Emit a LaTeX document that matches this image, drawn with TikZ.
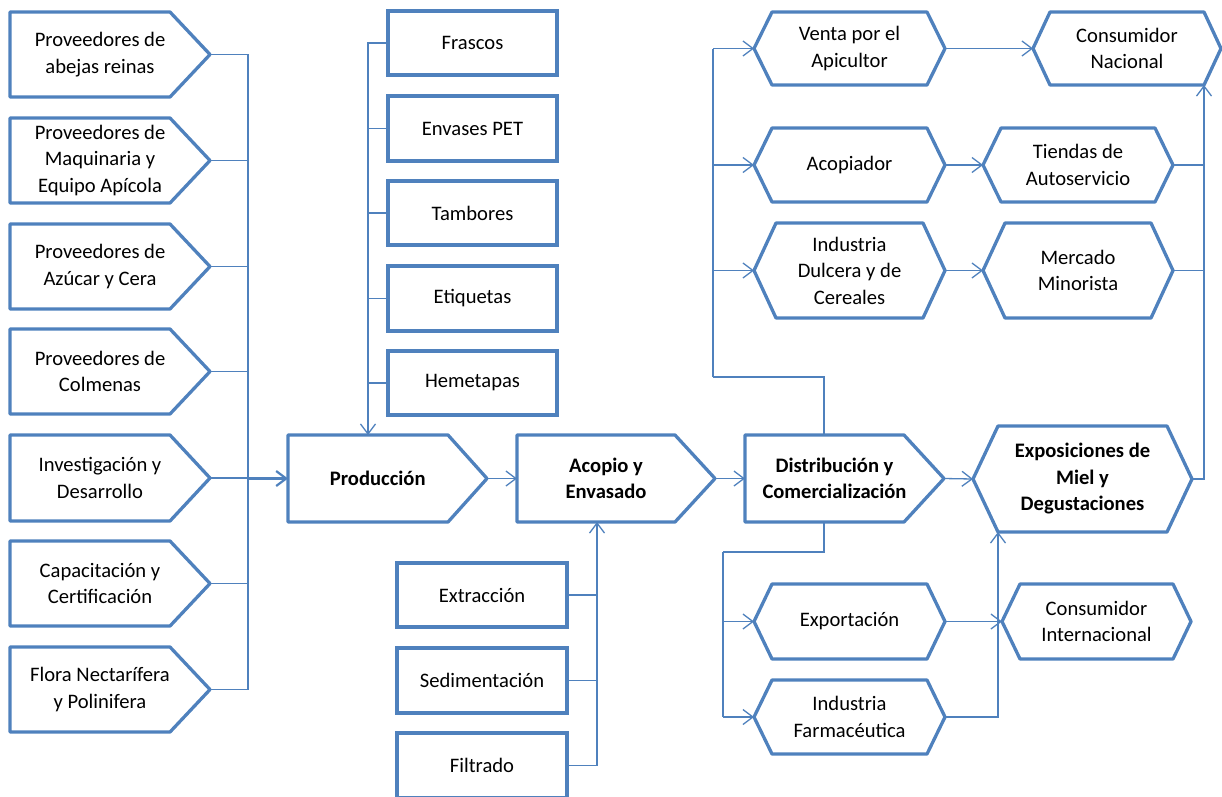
\documentclass[tikz,border=0pt]{standalone}
\usepackage{fontspec}
\setmainfont{Carlito}
\usetikzlibrary{arrows.meta,calc}
\definecolor{bl}{HTML}{4F81BD}
\tikzset{
  shp/.style={draw=bl, line width=3.3pt, line join=round},
  ln/.style={draw=bl, line width=1.3pt},
  arr/.style={ln, -{Straight Barb[length=10pt,width=15pt]}},
  txt/.style={font=\fontsize{20.6}{26.5}\selectfont, align=center, inner sep=0pt},
  anch/.style={inner sep=0pt, outer sep=0pt},
  rbox/.style={draw=bl, line width=3.3pt, outer sep=0pt, inner sep=0pt, font=\fontsize{20.6}{26.5}\selectfont, align=center}
}
% pentagon arrow: name, x1, y1, x2, y2, depth, text
\newcommand\pent[7]{%
  \node[anch, minimum width={(#4-#2)*1pt}, minimum height={(#5-#3)*1pt}] (#1) at ({(#2+#4)/2},{(#3+#5)/2}) {};
  \draw[shp] (#1.north west) -- ([xshift=-#6pt]#1.north east) -- (#1.east) -- ([xshift=-#6pt]#1.south east) -- (#1.south west) -- cycle;
  \node[txt] (#1t) at ([xshift=-#6pt/4]#1.center) {#7};}
% hexagon: name, x1, y1, x2, y2, depth, text
\newcommand\hexa[7]{%
  \node[anch, minimum width={(#4-#2)*1pt}, minimum height={(#5-#3)*1pt}] (#1) at ({(#2+#4)/2},{(#3+#5)/2}) {};
  \draw[shp] (#1.west) -- ([xshift=#6pt]#1.north west) -- ([xshift=-#6pt]#1.north east) -- (#1.east) -- ([xshift=-#6pt]#1.south east) -- ([xshift=#6pt]#1.south west) -- cycle;
  \node[txt] (#1t) at (#1.center) {#7};}
% rectangle: name, x1, y1, x2, y2, text
\newcommand\rbx[6]{%
  \node[rbox, minimum width={(#4-#2)*1pt}, minimum height={(#5-#3)*1pt}] (#1) at ({(#2+#4)/2},{(#3+#5)/2}) {#6};}
\begin{document}
\begin{tikzpicture}[x=1pt,y=-1pt]
\useasboundingbox (0,0) rectangle (1222,796);
% left column
\pent{l1}{10}{12}{210}{97}{40}{Proveedores de\\abejas reinas}
\pent{l2}{10}{118}{210}{203}{40}{Proveedores de\\Maquinaria y\\Equipo Apícola}
\pent{l3}{10}{224}{210}{309}{40}{Proveedores de\\Azúcar y Cera}
\pent{l4}{10}{329}{210}{414}{40}{Proveedores de\\Colmenas}
\pent{l5}{10}{435}{210}{521}{40}{Investigación y\\Desarrollo}
\pent{l6}{10}{541}{210}{626}{40}{Capacitación y\\Certificación}
\pent{l7}{10}{647}{210}{732}{40}{Flora Nectarífera\\y Polinifera}
% main chain
\pent{prod}{288}{435}{487}{522}{39}{\bfseries Producción}
\pent{acop}{517}{435}{715}{522}{40}{\bfseries Acopio y\\\bfseries Envasado}
\pent{dist}{745}{435}{944}{522}{40}{\bfseries Distribución y\\\bfseries Comercialización}
\hexa{expo}{973}{426}{1192}{532}{25}{\bfseries Exposiciones de\\\bfseries Miel y\\\bfseries Degustaciones}
% top middle
\rbx{f1}{388}{11}{557}{75}{Frascos}
\rbx{f2}{388}{96}{557}{161}{Envases PET}
\rbx{f3}{388}{181}{557}{245}{Tambores}
\rbx{f4}{388}{266}{557}{331}{Etiquetas}
\rbx{f5}{388}{351}{557}{415}{Hemetapas}
% bottom middle
\rbx{b1}{397}{563}{567}{627}{Extracción}
\rbx{b2}{397}{648}{567}{713}{Sedimentación}
\rbx{b3}{397}{733}{567}{798}{Filtrado}
% right side
\hexa{venta}{754}{12}{945}{85}{18}{Venta por el\\Apicultor}
\hexa{consnac}{1033}{12}{1221}{85}{17}{Consumidor\\Nacional}
\hexa{acopi}{754}{128}{945}{202}{18}{Acopiador}
\hexa{tiendas}{983}{128}{1173}{202}{18}{Tiendas de\\Autoservicio}
\hexa{indu}{754}{223}{945}{318}{22}{Industria\\Dulcera y de\\Cereales}
\hexa{merc}{983}{223}{1173}{318}{22}{Mercado\\Minorista}
\hexa{export}{754}{584}{945}{659}{18}{Exportación}
\hexa{farm}{754}{680}{945}{754}{18}{Industria\\Farmacéutica}
\hexa{consint}{1002}{584}{1191}{659}{18}{Consumidor\\Internacional}
% bus coordinates
\coordinate (busL) at (248,0);
\coordinate (busT) at (368,0);
\coordinate (busB) at (597,0);
\coordinate (busR) at (713,377);
\coordinate (busD) at (723,552);
\coordinate (busN) at (1204,0);
\coordinate (fx) at (998,0);
\coordinate (dt) at ([xshift=79pt]dist.north west);
\coordinate (db) at ([xshift=79pt]dist.south west);
% left bus
\draw[ln] (l1.east) -- (l1.east -| busL) -- (l7.east -| busL) -- (l7.east);
\foreach \n in {l2,l3,l4,l5,l6} \draw[ln] (\n.east) -- (\n.east -| busL);
\draw[arr, line width=2.2pt] (prod.west -| busL) -- (prod.west);
% top middle bus
\draw[arr] (f1.west) -| (busT |- prod.north);
\foreach \n in {f2,f3,f4,f5} \draw[ln] (\n.west) -- (\n.west -| busT);
% bottom middle bus
\draw[arr] (b3.east) -| (busB |- acop.south);
\foreach \n in {b1,b2} \draw[ln] (\n.east) -- (\n.east -| busB);
% main chain
\draw[arr] (prod.east) -- (acop.west);
\draw[arr] (acop.east) -- (dist.west);
\draw[arr] (dist.east) -- (expo.west);
% distribution up
\draw[ln, line width=2.4pt] (dt) |- (busR);
\draw[ln] (busR) -- (busR |- venta.west);
\foreach \n in {venta,acopi,indu} \draw[arr] (busR |- \n.west) -- (\n.west);
\draw[arr] (venta.east) -- (consnac.west);
\draw[arr] (acopi.east) -- (tiendas.west);
\draw[arr] (indu.east) -- (merc.west);
\draw[ln] (tiendas.east) -- (tiendas.east -| busN);
\draw[ln] (merc.east) -- (merc.east -| busN);
\draw[arr] (expo.east) -| (busN |- consnac.south);
% distribution down
\draw[ln, line width=1.8pt] (db) |- (busD);
\draw[ln] (busD) -- (busD |- farm.west);
\foreach \n in {export,farm} \draw[arr] (busD |- \n.west) -- (\n.west);
\draw[arr] (export.east) -- (consint.west);
\draw[arr] (farm.east) -| (fx |- expo.south);
\end{tikzpicture}
\end{document}
